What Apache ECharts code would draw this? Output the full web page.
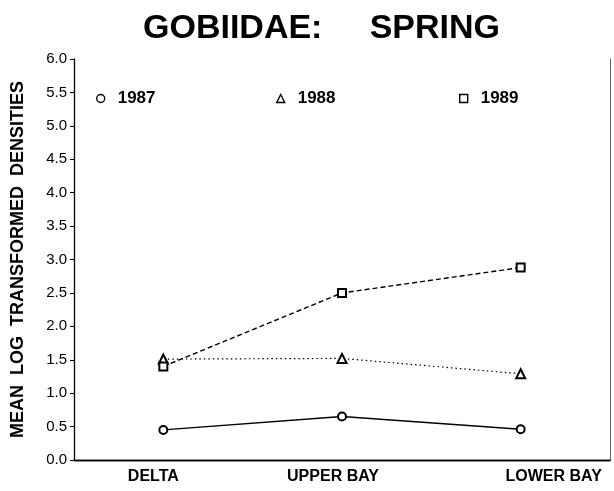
<!DOCTYPE html>
<html>
<head>
<meta charset="utf-8">
<script src="https://cdn.jsdelivr.net/npm/echarts@6/dist/echarts.min.js"></script>
<style>
  html, body { margin: 0; padding: 0; background: #fff; }
  #chart { width: 614px; height: 491px; }
</style>
</head>
<body>
<div id="chart"></div>
<script>
// 数据
var sites = ['DELTA', 'UPPER BAY', 'LOWER BAY'];
var y1987 = [0.45, 0.65, 0.46];
var y1988 = [1.51, 1.52, 1.29];
var y1989 = [1.40, 2.50, 2.88];
var yTicks = [0, 0.5, 1, 1.5, 2, 2.5, 3, 3.5, 4, 4.5, 5, 5.5, 6];

var chart = echarts.init(document.getElementById('chart'));
var font = 'Liberation Sans, Arial, sans-serif';

function legendAt(name, icon, left) {
    return {
        left: left,
        top: 85,
        itemWidth: 8,
        itemHeight: 8,
        icon: icon,
        data: [{
            name: name,
            itemStyle: { color: '#fff', borderColor: '#000', borderWidth: 1.4 }
        }],
        textStyle: {
            fontFamily: font,
            fontWeight: 'bold',
            fontSize: 17,
            color: '#000',
            padding: [0, 0, 0, 8]
        }
    };
}

// x轴标签的位置偏移
var labelStyle = { fontFamily: font, fontWeight: 'bold', fontSize: 16, color: '#000' };

var option = {
    backgroundColor: '#fff',
    animation: false,
    title: {
        text: 'GOBIIDAE:     SPRING',
        left: 138,
        top: 7,
        textStyle: {
            fontFamily: font,
            fontWeight: 'bold',
            fontSize: 34,
            color: '#000'
        }
    },
    legend: [
        legendAt('1987', 'circle', 91),
        legendAt('1988', 'triangle', 271),
        legendAt('1989', 'rect', 454)
    ],
    grid: {
        left: 74,
        right: 4,
        top: 59,
        bottom: 31
    },
    xAxis: [{
        type: 'category',
        data: sites,
        boundaryGap: true,
        axisLine: { lineStyle: { color: '#000', width: 1.3 } },
        axisTick: { inside: true, length: 4, lineStyle: { color: '#000' } },
        axisLabel: {
            margin: 9,
            color: '#000',
            fontFamily: font,
            fontWeight: 'bold',
            fontSize: 16,
            formatter: function (v, i) {
                return ['{a|', '{b|', '{c|'][i] + v + '}';
            },
            rich: {
                a: Object.assign({ padding: [0, 20, 0, 0] }, labelStyle),
                b: Object.assign({ padding: [0, 18, 0, 0] }, labelStyle),
                c: Object.assign({ padding: [0, 0, 0, 66] }, labelStyle)
            }
        }
    }, {
        type: 'category',
        position: 'top',
        data: sites,
        axisLine: { lineStyle: { color: '#000', width: 1.3 } },
        axisTick: { show: false },
        axisLabel: { show: false }
    }],
    yAxis: [{
        type: 'value',
        min: 0,
        max: 6,
        interval: 0.5,
        name: '{t|MEAN  LOG  TRANSFORMED  DENSITIES}',
        nameLocation: 'middle',
        nameGap: 47,
        nameTextStyle: {
            fontFamily: font,
            fontWeight: 'bold',
            fontSize: 19,
            color: '#000',
            rich: {
                t: { fontFamily: font, fontWeight: 'bold', fontSize: 18, color: '#000' }
            }
        },
        axisLine: { show: true, lineStyle: { color: '#000', width: 1.3 } },
        axisTick: { show: true, length: 4, lineStyle: { color: '#000' } },
        splitLine: { show: false },
        axisLabel: {
            margin: 7,
            color: '#000',
            fontFamily: font,
            fontSize: 15,
            formatter: function (v) { return v.toFixed(1); }
        }
    }, {
        type: 'value',
        position: 'right',
        min: 0,
        max: 6,
        axisLine: { show: true, lineStyle: { color: '#666', width: 1 } },
        axisTick: { show: false },
        axisLabel: { show: false },
        splitLine: { show: false }
    }],
    series: [{
        name: '1987',
        type: 'line',
        data: y1987,
        symbol: 'emptyCircle',
        symbolSize: 8,
        lineStyle: { color: '#000', width: 1.4, type: 'solid' },
        itemStyle: { color: '#000', borderWidth: 1.3 }
    }, {
        name: '1988',
        type: 'line',
        data: y1988,
        symbol: 'emptyTriangle',
        symbolSize: 9,
        lineStyle: { color: '#000', width: 1.2, type: [1.5, 3] },
        itemStyle: { color: '#000', borderWidth: 1.5 }
    }, {
        name: '1989',
        type: 'line',
        data: y1989,
        symbol: 'emptyRect',
        symbolSize: 8,
        lineStyle: { color: '#000', width: 1.4, type: [5, 3] },
        itemStyle: { color: '#000', borderWidth: 1.5 }
    }]
};

chart.setOption(option);
</script>
</body>
</html>
